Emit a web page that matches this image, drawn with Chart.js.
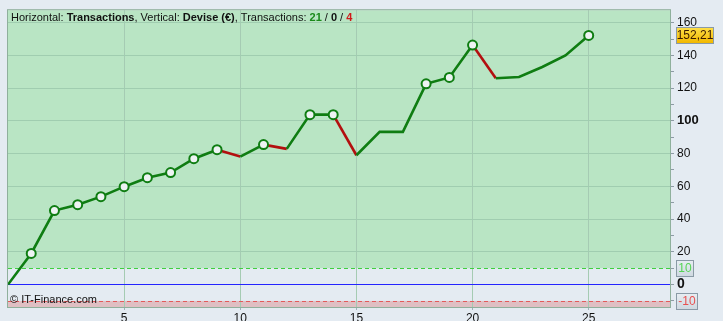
<!DOCTYPE html>
<html lang="fr">
  <head>
    <meta charset="UTF-8" />
    <title>Transactions</title>
    <style>
      html, body { margin: 0; padding: 0; background: #e4ebf2; }
      #wrap { width: 723px; height: 321px; }
    </style>
    <script src="https://cdn.jsdelivr.net/npm/chart.js@4/dist/chart.umd.min.js"></script>
  </head>
  <body>
    <div id="wrap"><canvas id="equity" width="723" height="321"></canvas></div>
    <script>
      // data
      const trades = [0, 1, 2, 3, 4, 5, 6, 7, 8, 9, 10, 11, 12, 13, 14, 15, 16, 17, 18, 19, 20, 21, 22, 23, 24, 25];
      const equity = [0, 19, 45.2, 48.8, 53.7, 59.8, 65.3, 68.4, 76.9, 82.4, 78.2, 85.5, 82.9, 103.8, 103.8, 79, 93.3, 93.3, 122.6, 126.5, 146.3, 126, 126.8, 132.9, 140, 152.21];
      const markers = [0, 1, 1, 1, 1, 1, 1, 1, 1, 1, 0, 1, 0, 1, 1, 0, 0, 0, 1, 1, 1, 0, 0, 0, 0, 1];
      const xTicks = [5, 10, 15, 20, 25];
      const yTicks = [-10, 0, 10, 20, 30, 40, 50, 60, 70, 80, 90, 100, 110, 120, 130, 140, 150, 160];
      const lastValue = "152,21";
      const counts = ["21", "0", "4"];

      const GREEN = "#0f7d12";
      const RED = "#b30f0f";
      const FONT = "'Liberation Sans', Arial, sans-serif";

      const zones = {
        id: "zones",
        beforeDraw(chart) {
          const { ctx, chartArea: a, scales } = chart;
          const y = scales.y;
          ctx.save();
          ctx.fillStyle = "#e4ebf2";
          ctx.fillRect(a.left, a.top, a.right - a.left, a.bottom - a.top);
          const y10 = y.getPixelForValue(10);
          const yM10 = y.getPixelForValue(-10);
          ctx.fillStyle = "#b9e5c4";
          ctx.fillRect(a.left, a.top, a.right - a.left, y10 - a.top);
          ctx.fillStyle = "#dfbfc3";
          ctx.fillRect(a.left, yM10, a.right - a.left, a.bottom - yM10);
          ctx.restore();
        },
        beforeDatasetsDraw(chart) {
          const { ctx, chartArea: a, scales } = chart;
          const y = scales.y;
          ctx.save();
          ctx.lineWidth = 1;
          ctx.setLineDash([4, 3]);
          ctx.strokeStyle = "#3fcf3f";
          let p = Math.round(y.getPixelForValue(10)) + 0.5;
          ctx.beginPath(); ctx.moveTo(a.left, p); ctx.lineTo(a.right, p); ctx.stroke();
          ctx.strokeStyle = "#e35a5a";
          p = Math.round(y.getPixelForValue(-10)) + 0.5;
          ctx.beginPath(); ctx.moveTo(a.left, p); ctx.lineTo(a.right, p); ctx.stroke();
          ctx.setLineDash([]);
          ctx.strokeStyle = "#2424ff";
          p = Math.round(y.getPixelForValue(0)) - 0.5;
          ctx.beginPath(); ctx.moveTo(a.left, p); ctx.lineTo(a.right, p); ctx.stroke();
          // frame
          ctx.strokeStyle = "#8fb09c";
          ctx.strokeRect(a.left - 0.5, a.top - 0.5, a.right - a.left + 1, a.bottom - a.top + 1);
          ctx.restore();
        },
        afterDraw(chart) {
          const { ctx, chartArea: a, scales } = chart;
          const y = scales.y;
          ctx.save();
          // header text
          ctx.textBaseline = "middle";
          let x = a.left + 3;
          const ty = a.top + 8;
          const parts = [
            ["Horizontal: ", "normal", "#111"],
            ["Transactions", "bold", "#111"],
            [", Vertical: ", "normal", "#111"],
            ["Devise (€)", "bold", "#111"],
            [", Transactions: ", "normal", "#111"],
            [counts[0], "bold", "#1a8a1a"],
            [" / ", "normal", "#111"],
            [counts[1], "bold", "#111"],
            [" / ", "normal", "#111"],
            [counts[2], "bold", "#d01818"],
          ];
          parts.forEach(([t, w, c]) => {
            ctx.font = w + " 11px " + FONT;
            ctx.fillStyle = c;
            ctx.fillText(t, x, ty);
            x += ctx.measureText(t).width;
          });
          // watermark
          ctx.font = "11px " + FONT;
          ctx.fillStyle = "#111";
          ctx.fillText("© IT-Finance.com", a.left + 2, y.getPixelForValue(-10) - 1);

          // value boxes on the right axis
          function box(label, value, fill, color, w) {
            const cy = Math.round(y.getPixelForValue(value));
            const bx = a.right + 6;
            const g = ctx.createLinearGradient(0, cy - 8, 0, cy + 8);
            g.addColorStop(0, fill[0]);
            g.addColorStop(1, fill[1]);
            ctx.fillStyle = g;
            ctx.fillRect(bx, cy - 8, w, 16);
            ctx.strokeStyle = "#8a9aa6";
            ctx.lineWidth = 1;
            ctx.strokeRect(bx + 0.5, cy - 7.5, w, 16);
            ctx.font = "12px " + FONT;
            ctx.fillStyle = color;
            ctx.textAlign = "center";
            ctx.fillText(label, bx + w / 2 + 0.5, cy + 1);
            ctx.textAlign = "left";
          }
          box(lastValue, equity[equity.length - 1], ["#ffe14a", "#f2b800"], "#3a1a00", 37);
          box("10", 10, ["#e8eef3", "#cfd9e1"], "#55d455", 17);
          box("-10", -10, ["#e8eef3", "#cfd9e1"], "#e85050", 21);
          ctx.restore();
        },
      };

      new Chart(document.getElementById("equity"), {
        type: "line",
        data: {
          labels: trades,
          datasets: [
            {
              data: trades.map((t, i) => ({ x: t, y: equity[i] })),
              borderWidth: 2.6,
              borderColor: GREEN,
              tension: 0,
              segment: {
                borderColor: (ctx) => (ctx.p1.parsed.y < ctx.p0.parsed.y ? RED : GREEN),
              },
              pointRadius: markers.map((m) => (m ? 4.5 : 0)),
              pointBorderWidth: 2,
              pointBorderColor: GREEN,
              pointBackgroundColor: "#eef3f3",
              pointHoverRadius: 0,
            },
          ],
        },
        plugins: [zones],
        options: {
          responsive: false,
          animation: false,
          events: [],
          layout: { padding: { left: 8, top: 10, right: 0, bottom: 0 } },
          plugins: { legend: { display: false }, tooltip: { enabled: false } },
          scales: {
            x: {
              type: "linear",
              min: 0,
              max: 28.5,
              afterFit: (s) => { s.height = 14; },
              afterBuildTicks: (s) => { s.ticks = xTicks.map((v) => ({ value: v })); },
              border: { display: false },
              grid: { color: "#a5cbb3", tickLength: 3, tickColor: "#a0aeb8" },
              ticks: {
                padding: 1,
                maxRotation: 0,
                autoSkip: false,
                color: "#111",
                font: { family: FONT, size: 12 },
              },
            },
            y: {
              position: "right",
              min: -13.7,
              max: 167.6,
              afterFit: (s) => { s.width = 53; },
              afterBuildTicks: (s) => { s.ticks = yTicks.map((v) => ({ value: v })); },
              border: { display: true, color: "#95a9b5" },
              grid: {
                tickLength: 4,
                tickColor: "#8e9ba5",
                color: (c) => (c.tick && c.tick.value % 20 === 0 && c.tick.value > 10 ? "#a0cdb0" : "rgba(0,0,0,0)"),
              },
              ticks: {
                autoSkip: false,
                padding: 3,
                color: "#111",
                callback: (v) => (v % 20 === 0 && v > 10 || v === 0 ? String(v) : ""),
                font: (c) => {
                  const v = c.tick ? c.tick.value : null;
                  if (v === 100) return { family: FONT, size: 13, weight: "bold" };
                  if (v === 0) return { family: FONT, size: 14, weight: "bold" };
                  return { family: FONT, size: 12 };
                },
              },
            },
          },
        },
      });
    </script>
  </body>
</html>
